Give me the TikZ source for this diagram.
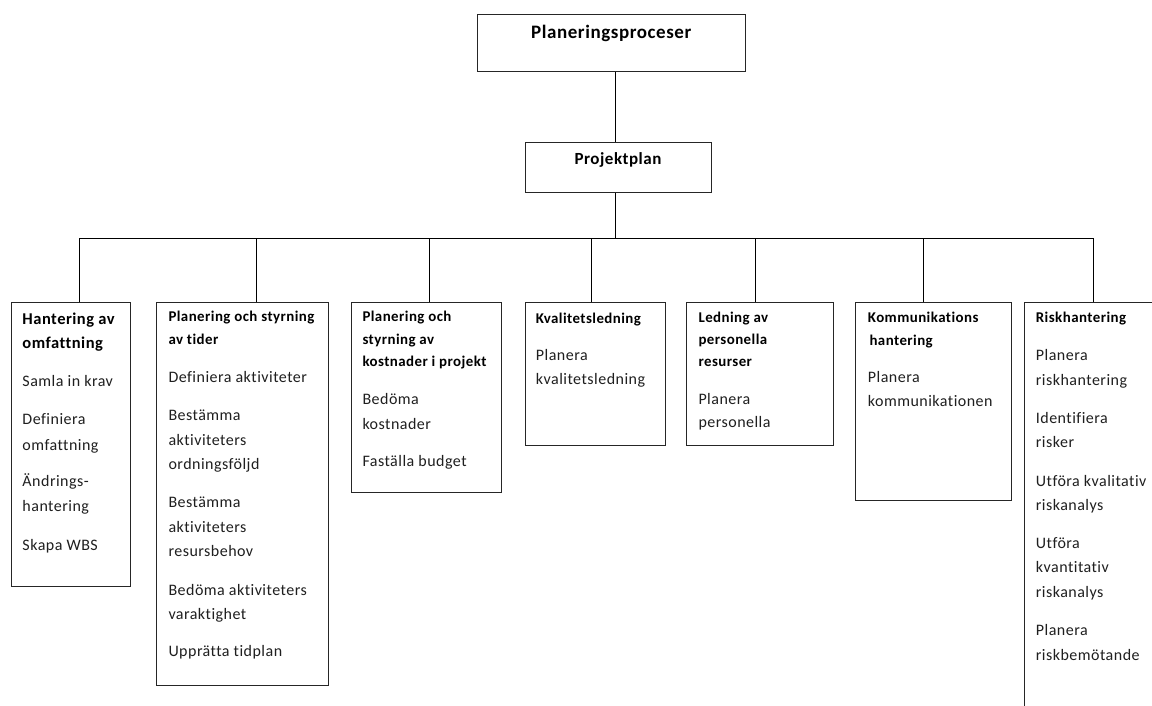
\documentclass[tikz,border=0pt]{standalone}
\usepackage{fontspec}
\setmainfont{Carlito}[LetterSpace=3,Ligatures={NoCommon,NoRequired,NoContextual}]
\usetikzlibrary{fit}
\tikzset{
  box/.style={draw=black!85, line width=1pt, inner sep=0pt, fill=white},
  conn/.style={draw=black, line width=1pt},
  body/.style={anchor=base west, inner sep=0pt, text=black!88, font=\fontsize{16}{19}\selectfont},
  head/.style={anchor=base west, inner sep=0pt, text=black, font=\bfseries\fontsize{14.9}{17}\selectfont},
  headA/.style={anchor=base west, inner sep=0pt, text=black, font=\bfseries\fontsize{16.5}{19}\selectfont},
}
\newcommand\tline[5]{\node[#1] (#2) at (#3,#4) {#5};}
\begin{document}
\begin{tikzpicture}[x=1pt,y=-1pt]
\clip (0,0) rectangle (1152,706);
\fill[white] (0,0) rectangle (1152,706);
% top boxes
\node[box, fit={(477.3,14.3)(745.7,72)}] (top) {};
\node[anchor=base, inner sep=0pt, font=\bfseries\fontsize{19}{22}\selectfont] (title) at (611.3,38.3) {Planeringsproceser};
\node[box, fit={(525,142.7)(711,193)}] (proj) {};
\node[anchor=base, inner sep=0pt, font=\bfseries\fontsize{17}{20}\selectfont] (projt) at (618,164.3) {Projektplan};
% child boxes
\node[box, fit={(11.7,302)(130,586)}] (b1) {};
\node[box, fit={(156.7,302)(328,685)}] (b2) {};
\node[box, fit={(351,302)(501.3,492)}] (b3) {};
\node[box, fit={(525,302)(665,445.7)}] (b4) {};
\node[box, fit={(686.7,302)(833,445.7)}] (b5) {};
\node[box, fit={(855.7,302)(1011.7,500.7)}] (b6) {};
\node[box, fit={(1024.3,302)(1170,720)}] (b7) {};
% connector points
\coordinate (bx) at (615.7,238.3);
\coordinate (d1) at (79.3,302);
\coordinate (d2) at (256,302);
\coordinate (d3) at (429.3,302);
\coordinate (d4) at (591.7,302);
\coordinate (d5) at (755.3,302);
\coordinate (d6) at (923.3,302);
\coordinate (d7) at (1093.7,302);
\draw[conn] (top.south -| bx) -- (proj.north -| bx);
\draw[conn] (proj.south -| bx) -- (bx);
\draw[conn] (d1) -- (d1 |- bx) -- (d7 |- bx) -- (d7);
\foreach \d in {d2,d3,d4,d5,d6} \draw[conn] (\d) -- (\d |- bx);
% box 1
\tline{headA}{a1}{22.3}{324.3}{Hantering av}
\tline{headA}{a2}{22.3}{348}{omfattning}
\tline{body}{a3}{22.3}{386.7}{Samla in krav}
\tline{body}{a4}{22.3}{424.3}{Definiera}
\tline{body}{a5}{22.3}{450}{omfattning}
\tline{body}{a6}{22.3}{486.7}{Ändrings-}
\tline{body}{a7}{22.3}{511.7}{hantering}
\tline{body}{a8}{22.3}{550}{Skapa WBS}
% box 2
\tline{head}{e1}{168.3}{321.7}{Planering och styrning}
\tline{head}{e2}{168.3}{344}{av tider}
\tline{body}{e3}{168.3}{382.7}{Definiera aktiviteter}
\tline{body}{e4}{168.3}{420.7}{Bestämma}
\tline{body}{e5}{168.3}{445.7}{aktiviteters}
\tline{body}{e6}{168.3}{469}{ordningsföljd}
\tline{body}{e7}{168.3}{507.3}{Bestämma}
\tline{body}{e8}{168.3}{532.3}{aktiviteters}
\tline{body}{e9}{168.3}{556.7}{resursbehov}
\tline{body}{e10}{168.3}{595}{Bedöma aktiviteters}
\tline{body}{e11}{168.3}{619.3}{varaktighet}
\tline{body}{e12}{168.3}{656.7}{Upprätta tidplan}
% box 3
\tline{head}{c1}{362.3}{321.7}{Planering och}
\tline{head}{c2}{362.3}{344}{styrning av}
\tline{head}{c3}{362.3}{366}{kostnader i projekt}
\tline{body}{c4}{362.3}{404}{Bedöma}
\tline{body}{c5}{362.3}{429}{kostnader}
\tline{body}{c6}{362.3}{466.7}{Faställa budget}
% box 4
\tline{head}{k1}{535.7}{323.3}{Kvalitetsledning}
\tline{body}{k2}{535.7}{360.7}{Planera}
\tline{body}{k3}{535.7}{384}{kvalitetsledning}
% box 5
\tline{head}{l1}{698.3}{322.3}{Ledning av}
\tline{head}{l2}{698.3}{344.3}{personella}
\tline{head}{l3}{698.3}{366}{resurser}
\tline{body}{l4}{698.3}{404.3}{Planera}
\tline{body}{l5}{698.3}{427.7}{personella}
% box 6
\tline{head}{m1}{867.7}{322.3}{Kommunikations}
\tline{head}{m2}{869.3}{345}{hantering}
\tline{body}{m3}{867.7}{382.3}{Planera}
\tline{body}{m4}{867.7}{406.7}{kommunikationen}
% box 7
\tline{head}{r1}{1035.7}{322.3}{Riskhantering}
\tline{body}{r2}{1035.7}{360.7}{Planera}
\tline{body}{r3}{1035.7}{385.7}{riskhantering}
\tline{body}{r4}{1035.7}{423.3}{Identifiera}
\tline{body}{r5}{1035.7}{447.7}{risker}
\tline{body}{r6}{1035.7}{486}{Utföra kvalitativ}
\tline{body}{r7}{1035.7}{510}{riskanalys}
\tline{body}{r8}{1035.7}{548.3}{Utföra}
\tline{body}{r9}{1035.7}{572.7}{kvantitativ}
\tline{body}{r10}{1035.7}{597.3}{riskanalys}
\tline{body}{r11}{1035.7}{635.7}{Planera}
\tline{body}{r12}{1035.7}{660}{riskbemötande}
\end{tikzpicture}
\end{document}
